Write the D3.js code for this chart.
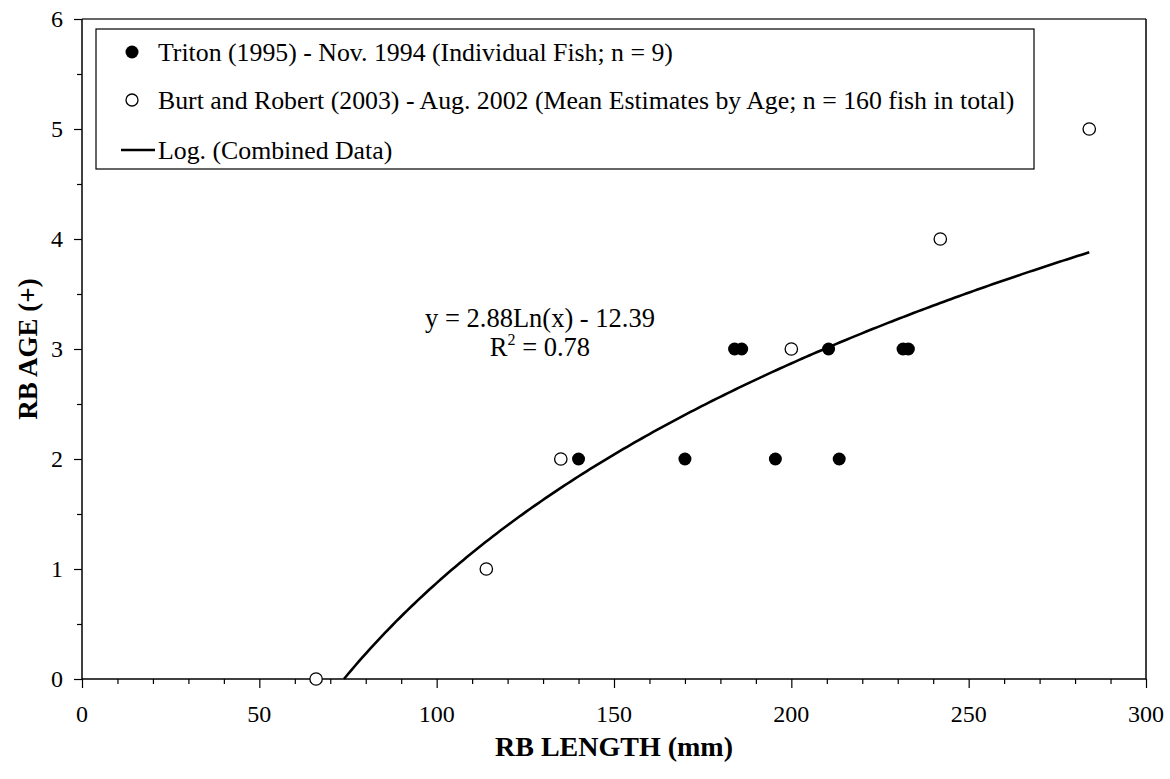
<!DOCTYPE html>
<html><head><meta charset="utf-8">
<script src="https://cdn.jsdelivr.net/npm/d3@7"></script>
<style>
body{margin:0;background:#fff}
svg{display:block}
text{font-family:"Liberation Serif","Times New Roman",serif;fill:#000}
</style>
</head><body>
<svg id="c" width="1170" height="779"></svg>
<script>
// ---- data ----
const tritonLength = [140, 170, 184, 186, 195.5, 210.5, 213.5, 231.5, 233];
const tritonAge    = [2, 2, 3, 3, 2, 3, 2, 3, 3];
const burtLength   = [66, 114, 135, 200, 242, 284];
const burtAge      = [0, 1, 2, 3, 4, 5];
const trendCoef    = [2.88, -12.39];     // y = a*Ln(x) + b
const trendEndX    = 284;
const xTicks = [0, 50, 100, 150, 200, 250, 300];
const yTicks = [0, 1, 2, 3, 4, 5, 6];
const legendLabels = [
  "Triton (1995) - Nov. 1994 (Individual Fish; n = 9)",
  "Burt and Robert (2003) - Aug. 2002 (Mean Estimates by Age; n = 160 fish in total)",
  "Log. (Combined Data)"
];
const xTitle = "RB LENGTH (mm)";
const yTitle = "RB AGE (+)";

// ---- layout ----
const L = 82, R = 1146, T = 19, B = 679;
const svg = d3.select("#c");
const x = d3.scaleLinear().domain([0, 300]).range([L, R]);
const y = d3.scaleLinear().domain([0, 6]).range([B, T]);

// frame (top and right)
svg.append("line").attr("x1", L).attr("x2", R).attr("y1", T).attr("y2", T)
  .attr("stroke", "#333").attr("stroke-width", 1.6);
svg.append("line").attr("x1", R).attr("x2", R).attr("y1", T).attr("y2", B)
  .attr("stroke", "#000").attr("stroke-width", 1.5);

// x axis
const gx = svg.append("g").attr("transform", `translate(0,${B})`);
gx.call(d3.axisBottom(x).tickValues(d3.range(0, 301, 10)).tickSize(5).tickFormat(""));
gx.call(g => g.selectAll(".tick").filter(d => d % 50 === 0).select("line").attr("y2", 9));
gx.selectAll(".domain").remove();
gx.append("line").attr("x1", L).attr("x2", R).attr("stroke", "#000").attr("stroke-width", 1.5);
gx.selectAll(".tick line").attr("stroke", "#000").attr("stroke-width", 1.2);
gx.selectAll(".lbl").data(xTicks).join("text").attr("class", "lbl")
  .attr("x", d => x(d)).attr("y", 43).attr("text-anchor", "middle")
  .style("font-size", "24px").text(d => d);

// y axis
const gy = svg.append("g").attr("transform", `translate(${L},0)`);
gy.call(d3.axisLeft(y).tickValues(d3.range(0, 6.01, 0.5)).tickSize(5).tickFormat(""));
gy.call(g => g.selectAll(".tick").filter(d => Math.abs(d - Math.round(d)) < 1e-9).select("line").attr("x2", -8));
gy.selectAll(".domain").remove();
gy.append("line").attr("y1", T).attr("y2", B).attr("stroke", "#000").attr("stroke-width", 1.5);
gy.selectAll(".tick line").attr("stroke", "#000").attr("stroke-width", 1.2);
gy.selectAll(".lbl").data(yTicks).join("text").attr("class", "lbl")
  .attr("x", -19).attr("y", d => y(d) + 8).attr("text-anchor", "end")
  .style("font-size", "24px").text(d => d);

// axis titles
svg.append("text").attr("x", (L + R) / 2).attr("y", 756).attr("text-anchor", "middle")
  .style("font-size", "28px").style("font-weight", "bold").text(xTitle);
svg.append("text").attr("transform", `translate(37,${(T + B) / 2}) rotate(-90)`)
  .attr("text-anchor", "middle").style("font-size", "27px").style("font-weight", "bold").text(yTitle);

// trend line
const x0 = Math.exp(-trendCoef[1] / trendCoef[0]);
const xs = d3.range(0, 201).map(i => x0 + (trendEndX - x0) * i / 200);
const line = d3.line().x(d => x(d)).y(d => y(trendCoef[0] * Math.log(d) + trendCoef[1]));
svg.append("path").datum(xs).attr("d", line).attr("fill", "none")
  .attr("stroke", "#000").attr("stroke-width", 2.6);

// points
svg.append("g").selectAll("circle").data(tritonLength).join("circle")
  .attr("cx", d => x(d)).attr("cy", (d, i) => y(tritonAge[i])).attr("r", 6.5).attr("fill", "#000");
svg.append("g").selectAll("circle").data(burtLength).join("circle")
  .attr("cx", d => x(d)).attr("cy", (d, i) => y(burtAge[i])).attr("r", 6.2)
  .attr("fill", "#fff").attr("stroke", "#000").attr("stroke-width", 1.3);

// equation
const eq = svg.append("text").attr("text-anchor", "middle").style("font-size", "26.5px");
eq.append("tspan").attr("x", 540).attr("y", 327).text("y = 2.88Ln(x) - 12.39");
const r2 = svg.append("text").attr("text-anchor", "middle").attr("x", 540).attr("y", 356).style("font-size", "26.5px");
r2.append("tspan").text("R");
r2.append("tspan").attr("dy", -11).style("font-size", "16px").text("2");
r2.append("tspan").attr("dy", 11).text(" = 0.78");

// legend
const lg = svg.append("g");
lg.append("rect").attr("x", 96).attr("y", 29).attr("width", 938).attr("height", 140)
  .attr("fill", "#fff").attr("stroke", "#000").attr("stroke-width", 1.2);
const rowY = [52, 100, 150];
lg.append("circle").attr("cx", 132).attr("cy", rowY[0]).attr("r", 6.5).attr("fill", "#000");
lg.append("circle").attr("cx", 132).attr("cy", rowY[1]).attr("r", 6)
  .attr("fill", "#fff").attr("stroke", "#000").attr("stroke-width", 1.3);
lg.append("line").attr("x1", 121).attr("x2", 155).attr("y1", rowY[2]).attr("y2", rowY[2])
  .attr("stroke", "#000").attr("stroke-width", 2.6);
lg.selectAll(".lt").data(legendLabels).join("text").attr("class", "lt")
  .attr("x", 158).attr("y", (d, i) => rowY[i] + 9).style("font-size", "25.8px").text(d => d);
</script>
</body></html>
